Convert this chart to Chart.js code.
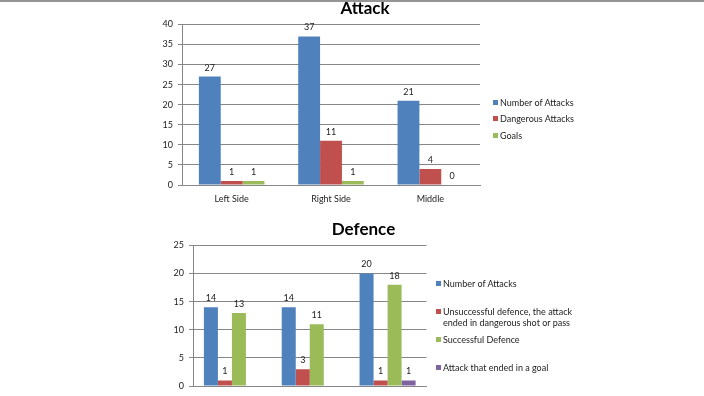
<!DOCTYPE html>
<html>
<head>
<meta charset="utf-8">
<script src="https://cdn.jsdelivr.net/npm/chart.js@4.4.0/dist/chart.umd.min.js"></script>
<style>
html, body { margin: 0; padding: 0; background: #fff; width: 704px; height: 396px; overflow: hidden; }
#topline { position: absolute; left: 0; top: 0; width: 704px; height: 2px; background: #959595; z-index: 5; }
canvas { position: absolute; }
#attack { left: 150px; top: -2px; }
#defence { left: 150px; top: 219px; }
.legend { position: absolute; left: 0; top: 0; font-family: Lato, sans-serif; font-size: 9px; color: #222; }
.legend div { position: absolute; padding-left: 7px; line-height: 11px; white-space: nowrap; }
.legend span { position: absolute; left: 0; top: 3px; width: 5px; height: 5px; }
</style>
</head>
<body>
<div id="topline"></div>
<canvas id="attack" width="430" height="212"></canvas>
<canvas id="defence" width="427" height="192"></canvas>
<div class="legend" id="attackLegend"></div>
<div class="legend" id="defenceLegend"></div>
<script>
// data
const categories = ['Left Side', 'Right Side', 'Middle'];

const attackNumber = [27, 37, 21];
const attackDangerous = [1, 11, 4];
const attackGoals = [1, 1, 0];

const defenceNumber = [14, 14, 20];
const defenceUnsuccessful = [1, 3, 1];
const defenceSuccessful = [13, 11, 18];
const defenceGoal = [null, null, 1];

const attackTicks = { max: 40, step: 5 };
const defenceTicks = { max: 25, step: 5 };

const blue = '#4F81BD', red = '#C0504D', green = '#9BBB59', purple = '#8064A2';

Chart.defaults.font.family = 'Lato, sans-serif';
Chart.defaults.font.size = 9;
Chart.defaults.color = '#222';

// numbers above the bars
const valueLabels = {
    id: 'valueLabels',
    afterDatasetsDraw(chart) {
        const ctx = chart.ctx;
        ctx.save();
        ctx.font = '9px Lato, sans-serif';
        ctx.fillStyle = '#222';
        ctx.textAlign = 'center';
        ctx.textBaseline = 'middle';
        chart.data.datasets.forEach((ds, i) => {
            chart.getDatasetMeta(i).data.forEach((bar, j) => {
                if (ds.data[j] === null || isNaN(bar.y)) return;
                ctx.fillText(ds.data[j], bar.x, bar.y - 9);
            });
        });
        ctx.restore();
    }
};

// y axis on the left, an empty axis on the right keeps room for the legend
function scales(ticks, yWidth, legendRoom) {
    return {
        x: {
            grid: { drawOnChartArea: false, drawTicks: false },
            border: { color: '#868686' },
            ticks: { padding: 9 },
            afterFit: s => { s.height = 25; }
        },
        y: {
            min: 0,
            max: ticks.max,
            grid: { color: '#868686', tickLength: 4 },
            border: { color: '#868686' },
            ticks: { stepSize: ticks.step, padding: 5 },
            afterFit: s => { s.width = yWidth; }
        },
        room: {
            type: 'linear',
            position: 'right',
            grid: { display: false },
            border: { display: false },
            ticks: { display: false },
            afterFit: s => { s.width = legendRoom; }
        }
    };
}

function htmlLegend(id, chart, left, tops) {
    const box = document.getElementById(id);
    chart.data.datasets.forEach((ds, i) => {
        const item = document.createElement('div');
        item.style.left = left + 'px';
        item.style.top = (tops[i] - 5.5) + 'px';
        if (ds.wrap) { item.style.whiteSpace = 'normal'; item.style.width = ds.wrap + 'px'; }
        item.innerHTML = '<span style="background:' + ds.backgroundColor + '"></span>' + ds.label;
        box.appendChild(item);
    });
}

// Attack chart
const attackChart = new Chart(document.getElementById('attack').getContext('2d'), {
    type: 'bar',
    data: {
        labels: categories,
        datasets: [
            { label: 'Number of Attacks', data: attackNumber, backgroundColor: blue },
            { label: 'Dangerous Attacks', data: attackDangerous, backgroundColor: red },
            { label: 'Goals', data: attackGoals, backgroundColor: green }
        ]
    },
    options: {
        responsive: false,
        animation: false,
        categoryPercentage: 0.66,
        barPercentage: 1,
        layout: { padding: 0 },
        plugins: {
            legend: { display: false },
            tooltip: { enabled: false },
            title: {
                display: true,
                text: 'Attack',
                color: '#000',
                font: { size: 17, weight: 'bold' },
                padding: { top: 0, bottom: 6 }
            }
        },
        scales: scales(attackTicks, 32, 100)
    },
    plugins: [valueLabels]
});

// Defence chart
const defenceChart = new Chart(document.getElementById('defence').getContext('2d'), {
    type: 'bar',
    data: {
        labels: categories,
        datasets: [
            { label: 'Number of Attacks', data: defenceNumber, backgroundColor: blue },
            { label: 'Unsuccessful defence, the attack ended in dangerous shot or pass', data: defenceUnsuccessful, backgroundColor: red, wrap: 140 },
            { label: 'Successful Defence', data: defenceSuccessful, backgroundColor: green },
            { label: 'Attack that ended in a goal', data: defenceGoal, backgroundColor: purple }
        ]
    },
    options: {
        responsive: false,
        animation: false,
        categoryPercentage: 0.72,
        barPercentage: 1,
        layout: { padding: 0 },
        plugins: {
            legend: { display: false },
            tooltip: { enabled: false },
            title: {
                display: true,
                text: 'Defence',
                color: '#000',
                font: { size: 17, weight: 'bold' },
                padding: { top: 0, bottom: 6 }
            }
        },
        scales: scales(defenceTicks, 43, 150.5)
    },
    plugins: [valueLabels]
});

htmlLegend('attackLegend', attackChart, 493, [102, 118, 135]);
htmlLegend('defenceLegend', defenceChart, 436, [283, 311, 339, 367]);
</script>
</body>
</html>
